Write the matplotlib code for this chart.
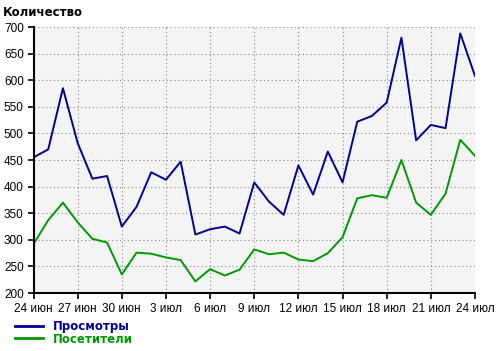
import numpy as np
import matplotlib.pyplot as plt
from matplotlib.lines import Line2D

# daily values, 24 июн .. 24 июл
views = [455, 470, 585, 482, 415, 420, 325, 362, 427, 413, 447, 310, 320, 325, 312,
         408, 372, 347, 440, 385, 466, 408, 522, 533, 558, 680, 487, 516, 510, 688, 608]
visitors = [292, 337, 370, 333, 302, 295, 235, 276, 274, 267, 262, 222, 245, 233, 244,
            282, 273, 276, 263, 260, 275, 305, 378, 384, 379, 450, 370, 347, 387, 488, 458]
tick_labels = ['24 июн', '27 июн', '30 июн', '3 июл', '6 июл', '9 июл',
               '12 июл', '15 июл', '18 июл', '21 июл', '24 июл']
series_names = ['Просмотры', 'Посетители']

blue = '#000099'
green = '#009900'

plt.rcParams['font.family'] = ['Liberation Sans', 'DejaVu Sans']

fig = plt.figure(figsize=(5.0, 3.51), dpi=100)
ax = fig.add_axes([0.067, 0.165, 0.883, 0.758])
ax.set_facecolor('#f4f4f4')

days = np.arange(len(views))
ax.plot(days, views, color=blue, lw=1.4)
ax.plot(days, visitors, color=green, lw=1.4)

ax.set_xlim(0, 30)
ax.set_ylim(200, 700)
ax.set_xticks(np.arange(0, 31, 3))
ax.set_xticklabels(tick_labels)
ax.set_yticks(np.arange(200, 701, 50))

ax.grid(True, color='#888888', linestyle=(0, (1, 2.5)), linewidth=0.8)
ax.set_axisbelow(True)
for s in ['top', 'right']:
    ax.spines[s].set_visible(False)
for s in ['left', 'bottom']:
    ax.spines[s].set_linewidth(1.5)
    ax.spines[s].set_color('black')
ax.tick_params(axis='both', direction='out', length=4, width=1.2,
               labelsize=8.5, colors='black', pad=3)

fig.text(0.006, 0.965, 'Количество', fontsize=8.5, fontweight='bold',
         family=['DejaVu Sans'], va='center', ha='left')

handles = [Line2D([], [], color=blue, lw=2), Line2D([], [], color=green, lw=2)]
leg = fig.legend(handles, series_names, loc='upper left', bbox_to_anchor=(0.03, 0.088),
                 frameon=False, handlelength=2.4, handletextpad=0.85,
                 labelspacing=-0.05, borderpad=0, borderaxespad=0,
                 prop={'family': 'DejaVu Sans', 'weight': 'bold', 'size': 8.5})
for txt, c in zip(leg.get_texts(), [blue, green]):
    txt.set_color(c)

fig.savefig('out.png', dpi=100)
